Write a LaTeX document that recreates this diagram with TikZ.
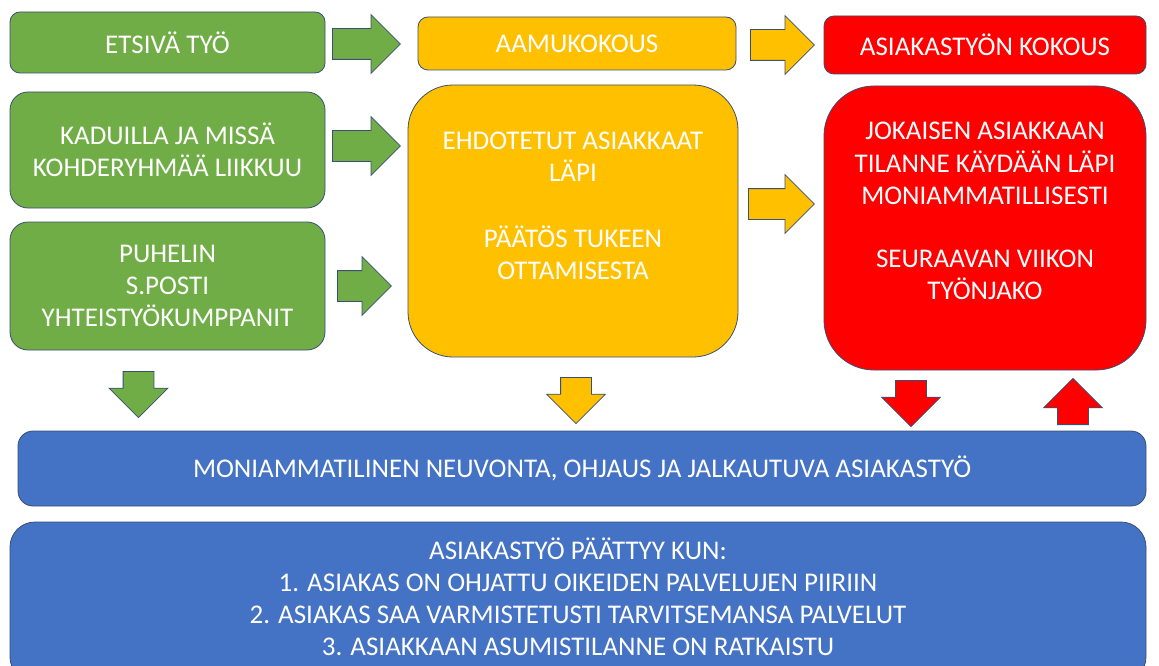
\documentclass[tikz,border=0pt]{standalone}
\usepackage{fontspec}
\setmainfont{Carlito}
\usepackage{tikz}
\usetikzlibrary{shapes, positioning}
\definecolor{ogreen}{HTML}{70AD47}
\definecolor{oyellow}{HTML}{FFC000}
\definecolor{ored}{HTML}{FF0000}
\definecolor{oblue}{HTML}{4472C4}
\definecolor{oedge}{HTML}{3A4F72}

\begin{document}
\begin{tikzpicture}[x=1pt, y=-1pt,
    box/.style={draw=oedge, line width=0.8pt, rounded corners=10pt, text=white,
        font=\fontsize{27}{32}\selectfont, align=center, inner sep=0pt},
    bigbox/.style={box, rounded corners=45pt},
    blockarrow/.style={single arrow, draw=oedge, line width=0.8pt, inner sep=15pt,
        minimum width=58pt, minimum height=66pt, single arrow head extend=14pt,
        single arrow tip angle=90, anchor=tail},
    downarrow/.style={blockarrow, minimum height=45pt, shape border rotate=270},
    uparrow/.style={blockarrow, minimum height=45pt, shape border rotate=90}]

    \useasboundingbox (0,0) rectangle (1159,666);

    % left column
    \node[box, fill=ogreen, minimum width=315pt, minimum height=61pt] (etsiva) at (167.5,42.5) {ETSIVÄ TYÖ};
    \node[box, fill=ogreen, minimum width=315pt, minimum height=116pt, rounded corners=18pt] (kadut) at (167.5,150) {KADUILLA JA MISSÄ\\KOHDERYHMÄÄ LIIKKUU};
    \node[box, fill=ogreen, minimum width=315pt, minimum height=128pt, rounded corners=18pt] (puhelin) at (167.5,286) {PUHELIN\\S.POSTI\\YHTEISTYÖKUMPPANIT};

    % middle column
    \node[box, fill=oyellow, minimum width=318pt, minimum height=53pt] (aamu) at (577,43.5) {AAMUKOKOUS};
    \node[bigbox, fill=oyellow, minimum width=330pt, minimum height=272pt] (ehdot) at (573,221) {};
    \node[box, draw=none] at ([yshift=15pt]ehdot.center) {EHDOTETUT ASIAKKAAT\\LÄPI\\[34pt]PÄÄTÖS TUKEEN\\OTTAMISESTA};

    % right column
    \node[box, fill=ored, minimum width=322pt, minimum height=58pt] (kokous) at (985,45) {ASIAKASTYÖN KOKOUS};
    \node[bigbox, fill=ored, minimum width=322pt, minimum height=284pt, rounded corners=50pt] (kaydaan) at (985,228) {};
    \node[box, draw=none, font=\fontsize{27}{32.5}\selectfont] at ([yshift=17pt]kaydaan.center) {JOKAISEN ASIAKKAAN\\TILANNE KÄYDÄÄN LÄPI\\MONIAMMATILLISESTI\\[30pt]SEURAAVAN VIIKON\\TYÖNJAKO};

    % bottom
    \node[box, fill=oblue, minimum width=1128pt, minimum height=75pt, rounded corners=15pt] (neuvonta) at (582,468.5) {MONIAMMATILINEN NEUVONTA, OHJAUS JA JALKAUTUVA ASIAKASTYÖ};
    \node[box, fill=oblue, minimum width=1136pt, minimum height=160pt, rounded corners=25pt] (paattyy) at (578,602) {};
    \node[box, draw=none] at ([yshift=5pt]paattyy.center) {ASIAKASTYÖ PÄÄTTYY KUN:\\
        1. ASIAKAS ON OHJATTU OIKEIDEN PALVELUJEN PIIRIIN\\
        2. ASIAKAS SAA VARMISTETUSTI TARVITSEMANSA PALVELUT\\
        3. ASIAKKAAN ASUMISTILANNE ON RATKAISTU};

    % arrows, placed by their tails
    \node[blockarrow, fill=ogreen, minimum height=68pt] (a1) at (332,44) {};
    \node[blockarrow, fill=ogreen, minimum height=68pt] (a2) at (332,146) {};
    \node[blockarrow, fill=ogreen, minimum height=54pt] (a3) at (337,286) {};
    \node[blockarrow, fill=oyellow, minimum height=64pt] (a4) at (750,45) {};
    \node[blockarrow, fill=oyellow, minimum height=66pt] (a5) at (748,204) {};
    \node[downarrow, fill=ogreen, minimum width=57pt, minimum height=44pt] (d1) at (138.5,371) {};
    \node[downarrow, fill=oyellow, minimum width=57pt] (d2) at (576,377) {};
    \node[downarrow, fill=ored] (d3) at (911,380) {};
    \node[uparrow, fill=ored] (u1) at (1073,425) {};
\end{tikzpicture}
\end{document}
